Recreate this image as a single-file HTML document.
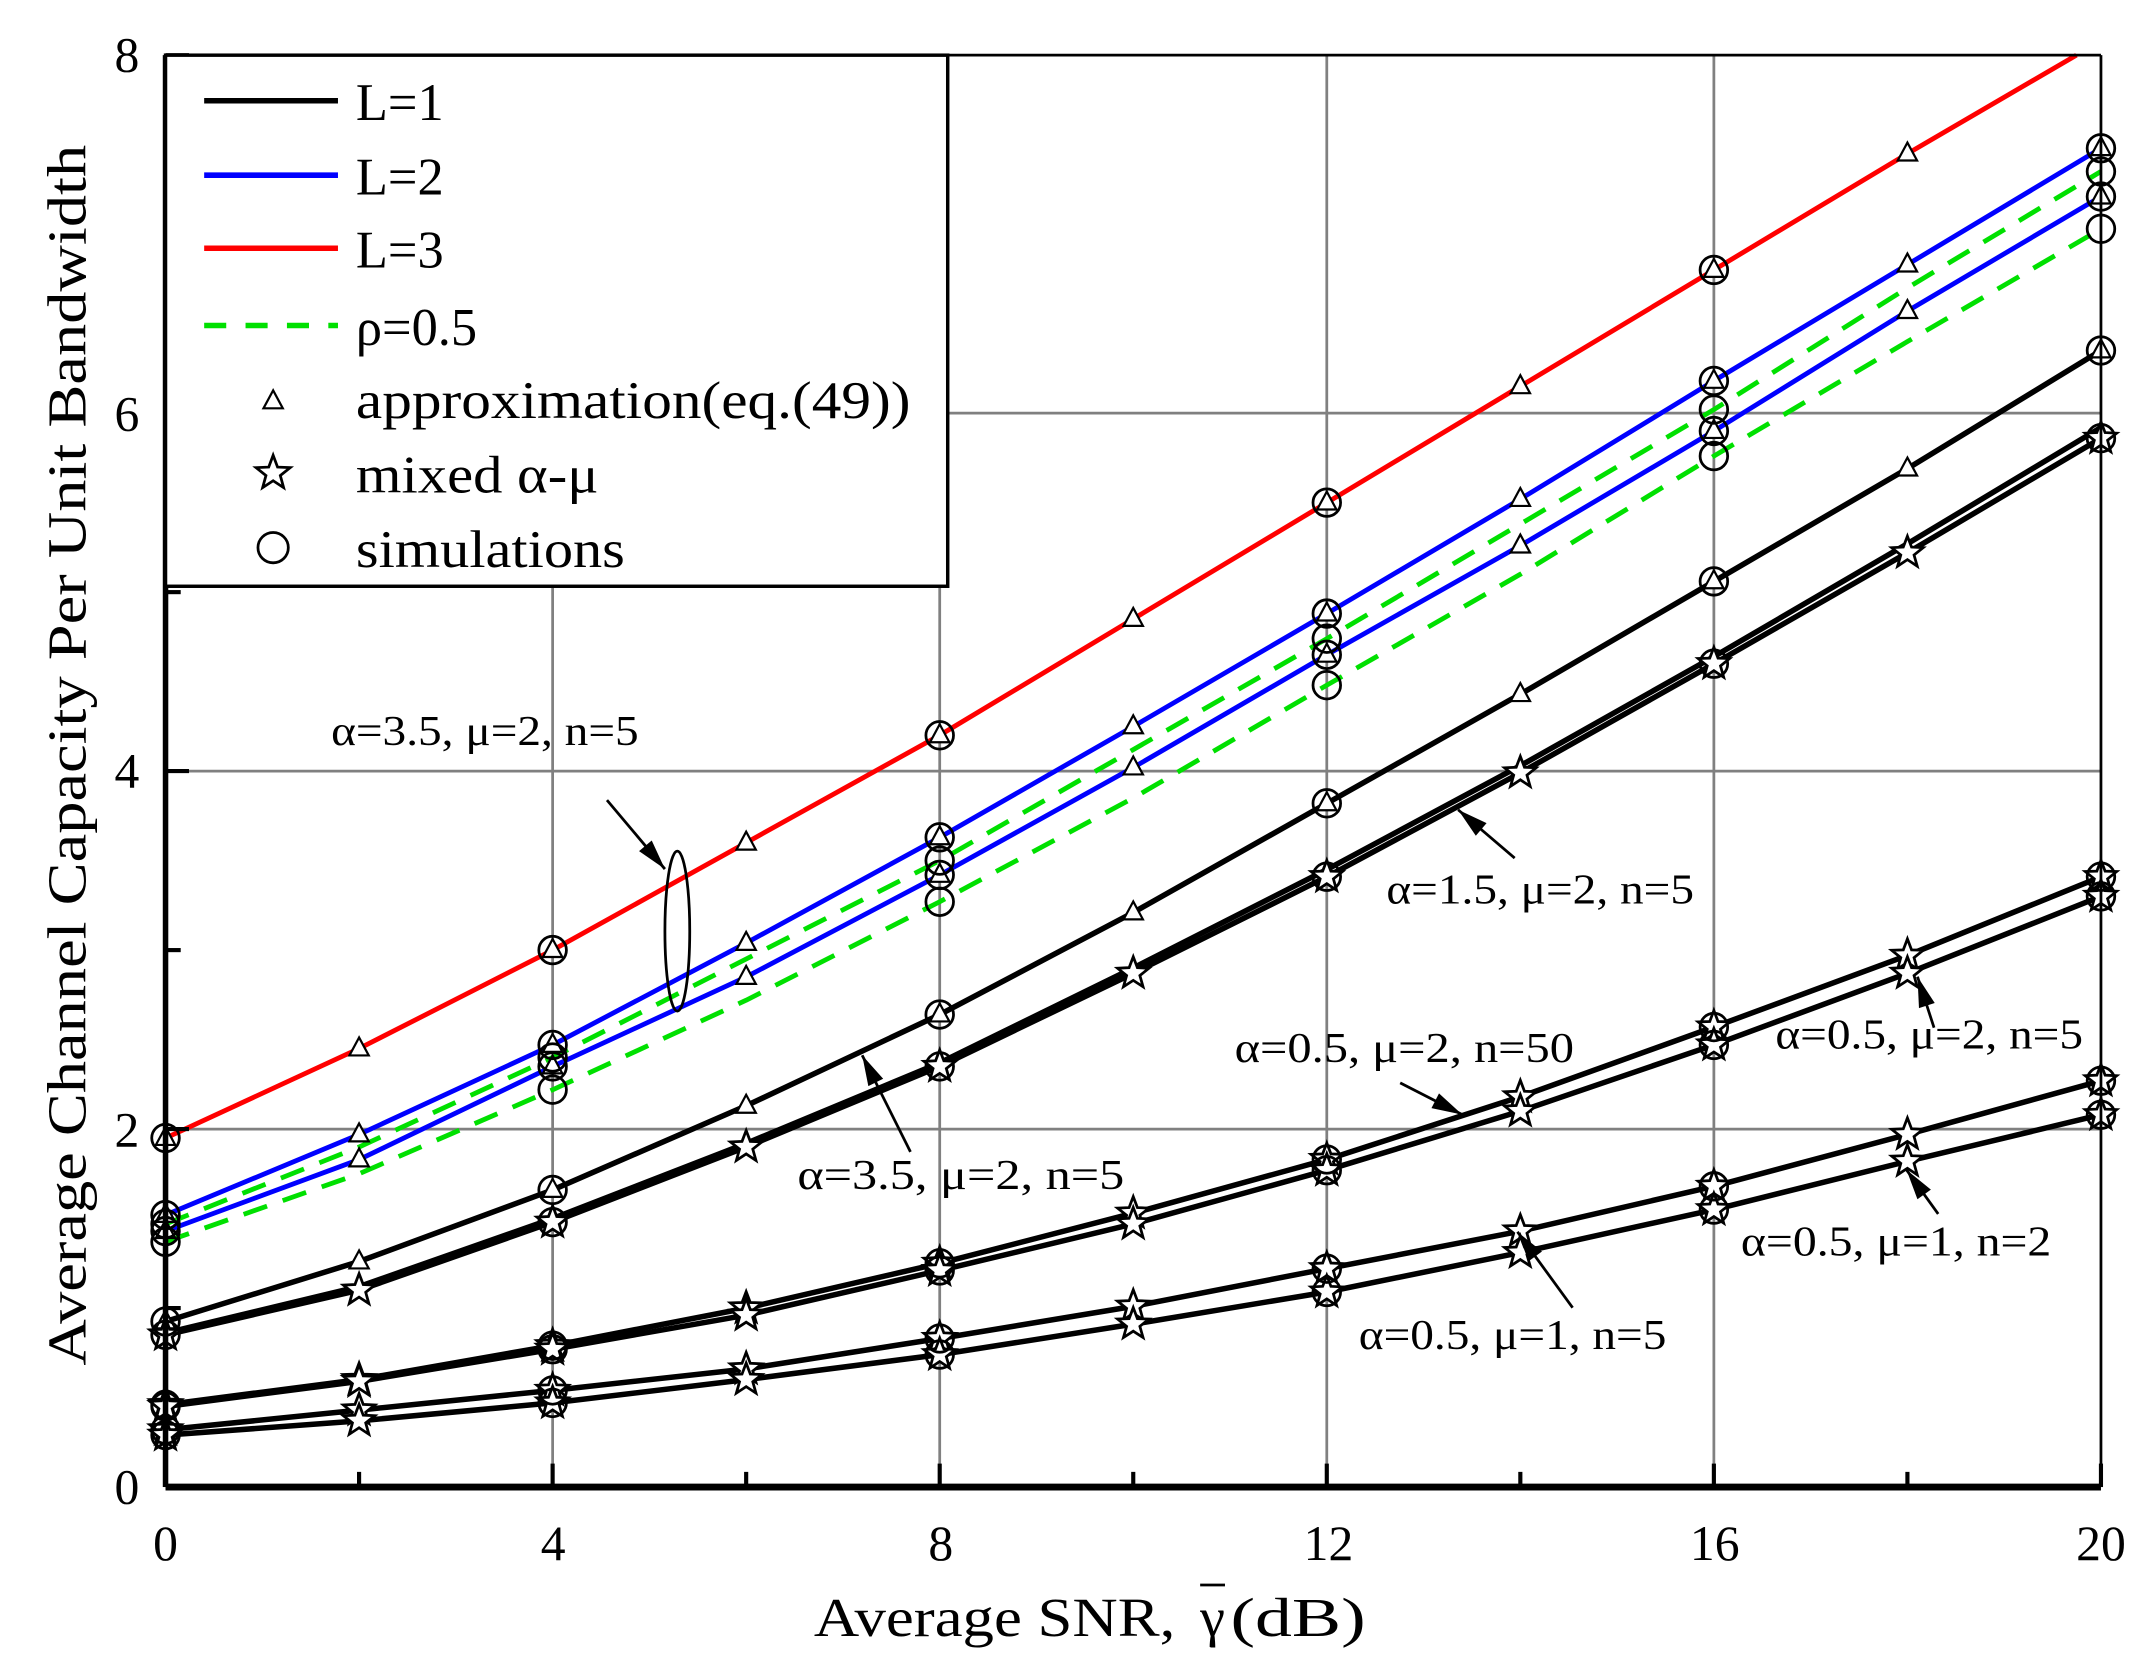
<!DOCTYPE html>
<html><head><meta charset="utf-8"><style>
html,body{margin:0;padding:0;background:#fff}
svg{display:block}
text{font-family:"Liberation Serif",serif;fill:#000}
</style></head><body>
<svg id="s" width="2152" height="1665" viewBox="0 0 1560 1207" preserveAspectRatio="none" xmlns="http://www.w3.org/2000/svg">
<rect width="1560" height="1207" fill="#fff"/>
<g id="grid" stroke="#808080" stroke-width="2"></g>
<g id="curves" fill="none" stroke-linejoin="round"></g>
<g id="marks" fill="none" stroke="#000" stroke-width="2"></g>
<g id="axes"></g>
<g id="ann"></g>
<rect x="120" y="40" width="567" height="385" fill="#fff" stroke="#000" stroke-width="2.5"/>
<line x1="148" y1="73" x2="245" y2="73" stroke="#000" stroke-width="4"/>
<line x1="148" y1="127" x2="245" y2="127" stroke="#0000ff" stroke-width="4"/>
<line x1="148" y1="180" x2="245" y2="180" stroke="#ff0000" stroke-width="4"/>
<line x1="148" y1="236" x2="245" y2="236" stroke="#00e000" stroke-width="4" stroke-dasharray="16,14"/>
<text x="258" y="87" font-size="38">L=1</text>
<text x="258" y="141" font-size="38">L=2</text>
<text x="258" y="194" font-size="38">L=3</text>
<text x="258" y="250" font-size="38">ρ=0.5</text>
<text x="258" y="303" font-size="38" textLength="402" lengthAdjust="spacingAndGlyphs">approximation(eq.(49))</text>
<text x="258" y="357" font-size="38" textLength="176" lengthAdjust="spacingAndGlyphs">mixed α-μ</text>
<text x="258" y="411" font-size="38" textLength="195" lengthAdjust="spacingAndGlyphs">simulations</text>
<polygon points="198,283 191,296 205,296" fill="none" stroke="#000" stroke-width="1.6"/>
<polygon id="lstar" fill="#fff" stroke="#000" stroke-width="2"/>
<circle cx="198" cy="397" r="11" fill="none" stroke="#000" stroke-width="2"/>
<g font-size="36" text-anchor="middle">
<text x="120" y="1131">0</text><text x="401" y="1131">4</text><text x="682" y="1131">8</text>
<text x="963" y="1131">12</text><text x="1243" y="1131">16</text><text x="1523" y="1131">20</text>
</g>
<g font-size="36" text-anchor="end">
<text x="101" y="1090">0</text><text x="101" y="831">2</text><text x="101" y="571">4</text>
<text x="101" y="312">6</text><text x="101" y="52">8</text>
</g>
<text x="590" y="1186" font-size="40" textLength="262" lengthAdjust="spacingAndGlyphs">Average SNR,</text>
<text x="870" y="1186" font-size="40" textLength="18" lengthAdjust="spacingAndGlyphs">γ</text>
<text x="892" y="1186" font-size="40" textLength="98" lengthAdjust="spacingAndGlyphs">(dB)</text>
<line x1="870" y1="1149" x2="888" y2="1149" stroke="#000" stroke-width="2"/>
<text transform="translate(62,990) rotate(-90)" font-size="40" textLength="885" lengthAdjust="spacingAndGlyphs">Average Channel Capacity Per Unit Bandwidth</text>
</svg>
<script>
const L=120,R=1523,T=40,B=1078;
const X=v=>L+(R-L)*v/20, Y=v=>B-(B-T)*v/8;
const ns="http://www.w3.org/2000/svg";
function el(p,t,a){const e=document.createElementNS(ns,t);for(const k in a)e.setAttribute(k,a[k]);document.getElementById(p).appendChild(e);return e;}
[4,8,12,16].forEach(v=>el('grid','line',{x1:X(v),x2:X(v),y1:T,y2:B}));
[2,4,6].forEach(v=>el('grid','line',{x1:L,x2:R,y1:Y(v),y2:Y(v)}));
el('axes','line',{x1:L,x2:R,y1:B,y2:B,stroke:'#000','stroke-width':5});
el('axes','line',{x1:L,x2:L,y1:T,y2:B,stroke:'#000','stroke-width':4});
el('axes','line',{x1:L,x2:R,y1:T,y2:T,stroke:'#000','stroke-width':2});
el('axes','line',{x1:R,x2:R,y1:T,y2:B,stroke:'#000','stroke-width':2});
for(let v=0;v<=20;v+=2){const mj=v%4==0;el('axes','line',{x1:X(v),x2:X(v),y1:B,y2:B-(mj?17:11),stroke:'#000','stroke-width':3});}
for(let v=0;v<=8;v+=1){const mj=v%2==0;el('axes','line',{x1:L,x2:L+(mj?17:11),y1:Y(v),y2:Y(v),stroke:'#000','stroke-width':3});}
const xs=[0,2,4,6,8,10,12,14,16,18,20];
const red=[1.95,2.45,3.0,3.6,4.2,4.85,5.5,6.15,6.8,7.45,8.08];
const bu=[1.52,1.97,2.47,3.04,3.63,4.25,4.88,5.52,6.18,6.83,7.48];
const bl=[1.43,1.83,2.35,2.85,3.42,4.02,4.65,5.26,5.90,6.57,7.21];
const gu=[1.47,1.90,2.40,2.95,3.50,4.12,4.74,5.38,6.02,6.70,7.35];
const gl=[1.37,1.75,2.22,2.72,3.27,3.85,4.48,5.10,5.76,6.40,7.03];
const A=[0.925,1.26,1.66,2.13,2.64,3.21,3.82,4.43,5.06,5.69,6.35];
const B1=[0.85,1.10,1.48,1.90,2.35,2.87,3.41,3.99,4.60,5.22,5.86];
const B2=[0.86,1.12,1.50,1.92,2.37,2.90,3.45,4.03,4.64,5.27,5.92];
const C=[0.46,0.60,0.79,1.0,1.25,1.53,1.83,2.18,2.57,2.97,3.41];
const D=[0.45,0.59,0.77,0.96,1.21,1.47,1.77,2.10,2.47,2.87,3.30];
const E=[0.32,0.43,0.54,0.66,0.83,1.01,1.22,1.43,1.68,1.97,2.27];
const F=[0.29,0.37,0.47,0.60,0.74,0.91,1.09,1.31,1.55,1.82,2.08];
function path(d,col,w,dash){let s='';d.forEach((v,i)=>{let x=xs[i],y=v;if(y>8){x=xs[i-1]+(8-d[i-1])/(v-d[i-1])*2;y=8;}s+=(i?'L':'M')+X(x).toFixed(1)+','+Y(y).toFixed(1);});const a={d:s,stroke:col,'stroke-width':w};if(dash)a['stroke-dasharray']=dash;el('curves','path',a);}
[A,B1,B2,C,D,E,F].forEach(d=>path(d,'#000',4));
path(red,'#ff0000',3.5);path(bu,'#0000ff',3.5);path(bl,'#0000ff',3.5);
path(gu,'#00e000',3.5,'18,12');path(gl,'#00e000',3.5,'18,12');
function tri(x,y){el('marks','polygon',{points:`${x},${y-8} ${x-7},${y+5} ${x+7},${y+5}`,fill:'#fff','stroke-width':1.6});}
function starPts(x,y,r){let p=[];for(let k=0;k<10;k++){const a=-Math.PI/2+k*Math.PI/5,rr=k%2?r*0.42:r;p.push((x+rr*Math.cos(a)).toFixed(1)+','+(y+rr*Math.sin(a)).toFixed(1));}return p.join(' ');}
function star(x,y){el('marks','polygon',{points:starPts(x,y,12),fill:'#fff','stroke-width':2});}
function circ(x,y){el('marks','circle',{cx:x,cy:y,r:10,'stroke-width':2});}
[red,bu,bl,A].forEach(d=>d.forEach((v,i)=>{if(v<=8)tri(X(xs[i]),Y(v));}));
[B1,C,D,E,F].forEach(d=>d.forEach((v,i)=>star(X(xs[i]),Y(v))));
[red,bu,bl,gu,gl,A,B1,C,D,E,F].forEach(d=>d.forEach((v,i)=>{if(xs[i]%4==0&&v<=8)circ(X(xs[i]),Y(v));}));
document.getElementById('lstar').setAttribute('points',starPts(198,343,13));
function txt(x,y,s,w){const t=el('ann','text',{x:x,y:y,'font-size':31,textLength:w,lengthAdjust:'spacingAndGlyphs'});t.textContent=s;}
function arr(x1,y1,x2,y2){el('ann','line',{x1,y1,x2,y2,stroke:'#000','stroke-width':2});const a=Math.atan2(y2-y1,x2-x1),l=22,w=6;const bx=x2-l*Math.cos(a),by=y2-l*Math.sin(a);el('ann','polygon',{points:`${x2},${y2} ${bx-w*Math.sin(a)},${by+w*Math.cos(a)} ${bx+w*Math.sin(a)},${by-w*Math.cos(a)}`,fill:'#000'});}
txt(240,540,'α=3.5, μ=2, n=5',223);arr(440,580,482,630);
el('ann','ellipse',{cx:491,cy:675,rx:9,ry:58,fill:'none',stroke:'#000','stroke-width':2});
txt(1005,655,'α=1.5, μ=2, n=5',223);arr(1098,622,1057,587);
txt(895,770,'α=0.5, μ=2, n=50',246);arr(1015,785,1060,808);
txt(1287,760,'α=0.5, μ=2, n=5',223);arr(1402,745,1390,708);
txt(578,862,'α=3.5, μ=2, n=5',237);arr(660,835,625,765);
txt(1262,910,'α=0.5, μ=1, n=2',225);arr(1405,880,1382,848);
txt(985,978,'α=0.5, μ=1, n=5',223);arr(1140,948,1100,893);
</script>
</body></html>
